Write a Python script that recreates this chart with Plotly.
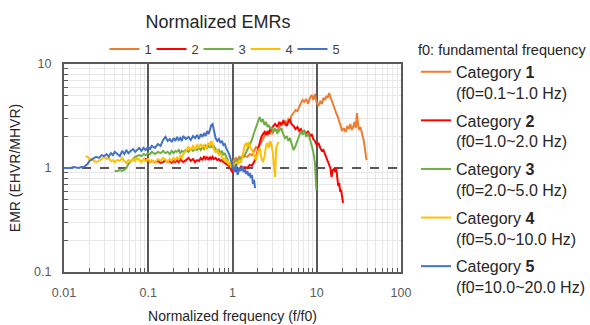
import plotly.graph_objects as go

# ---- data: normalized EMR curves, one per site category ----
cat1_x = [1.00, 1.05, 1.10, 1.15, 1.20, 1.30, 1.40, 1.50, 1.60, 1.70, 1.80, 1.9, 2.0, 2.1, 2.2, 2.3,
          2.4, 2.5, 2.6, 2.7, 2.8, 2.9, 3.0, 3.2, 3.4, 3.6, 3.8, 4.0, 4.2, 4.4, 4.6, 4.8, 5.0, 5.3,
          5.6, 5.9, 6.2, 6.5, 6.8, 7.1, 7.5, 7.9, 8.3, 8.7, 9.1, 9.5, 10, 10.5, 11, 11.5, 12, 12.5,
          13, 13.5, 14, 14.5, 15, 16, 17, 18, 19, 20, 21, 22, 23, 24, 25, 26, 27, 28, 29, 30, 31,
          32, 33, 34, 35, 36, 37, 38, 39]
cat1_y = [1.14, 1.19, 1.25, 1.19, 1.28, 1.25, 1.30, 1.28, 1.36, 1.33, 1.46, 1.59, 1.56, 1.70, 1.78,
          1.90, 2.03, 2.17, 2.08, 2.22, 2.12, 2.27, 2.17, 2.37, 2.27, 2.54, 2.71, 2.65, 2.83, 2.71,
          2.95, 2.83, 3.16, 3.38, 3.61, 3.53, 3.95, 4.22, 4.51, 4.32, 4.61, 4.13, 4.72, 5.03, 4.51,
          5.14, 4.22, 3.95, 4.41, 4.13, 4.72, 4.51, 4.92, 4.72, 5.26, 4.82, 4.41, 3.95, 3.38, 3.02,
          2.54, 2.27, 2.42, 2.22, 2.54, 2.37, 2.65, 2.32, 2.48, 2.77, 2.42, 3.38, 2.54, 2.32, 2.48,
          2.17, 2.03, 1.86, 1.63, 1.43, 1.19]

cat2_x = [0.090, 0.093, 0.10, 0.105, 0.11, 0.12, 0.13, 0.14, 0.15, 0.16, 0.17, 0.18, 0.19, 0.20,
          0.21, 0.22, 0.23, 0.24, 0.25, 0.26, 0.28, 0.30, 0.32, 0.34, 0.36, 0.38, 0.40, 0.42, 0.44,
          0.46, 0.48, 0.50, 0.52, 0.54, 0.56, 0.58, 0.60, 0.63, 0.66, 0.69, 0.72, 0.75, 0.78, 0.81,
          0.84, 0.87, 0.90, 0.93, 0.96, 1.00, 1.05, 1.10, 1.15, 1.20, 1.25, 1.30, 1.40, 1.50, 1.60,
          1.70, 1.80, 1.9, 2.0, 2.1, 2.2, 2.3, 2.4, 2.5, 2.6, 2.7, 2.8, 2.9, 3.0, 3.2, 3.4, 3.6, 3.8,
          4.0, 4.2, 4.4, 4.6, 4.8, 5.0, 5.3, 5.6, 5.9, 6.2, 6.5, 6.8, 7.1, 7.5, 7.9, 8.3, 8.7, 9.1,
          9.5, 10, 10.5, 11, 11.5, 12, 12.5, 13, 13.5, 14, 14.5, 15, 15.5, 16, 16.5, 17, 17.5, 18,
          18.5, 19, 19.5, 20, 20.5]
cat2_y = [1.19, 1.22, 1.17, 1.14, 1.17, 1.14, 1.17, 1.12, 1.14, 1.19, 1.14, 1.17, 1.12, 1.17,
          1.14, 1.19, 1.14, 1.22, 1.17, 1.14, 1.19, 1.25, 1.17, 1.22, 1.14, 1.19, 1.17, 1.25, 1.19,
          1.30, 1.22, 1.28, 1.19, 1.28, 1.22, 1.28, 1.22, 1.25, 1.19, 1.22, 1.17, 1.19, 1.14, 1.12,
          1.09, 1.07, 1.05, 1.00, 0.957, 0.915, 0.978, 0.936, 1.00, 0.957, 1.02, 0.978, 1.02, 1.00,
          1.07, 1.05, 1.14, 1.25, 1.49, 1.78, 1.99, 2.12, 2.22, 2.08, 2.27, 2.12, 2.37, 2.27, 2.48,
          2.65, 2.48, 2.77, 2.59, 2.83, 2.65, 2.54, 2.77, 2.95, 2.65, 2.54, 2.37, 2.48, 2.27, 2.37,
          2.17, 2.27, 2.12, 2.27, 2.03, 2.12, 1.90, 1.82, 1.66, 1.74, 1.56, 1.46, 1.49, 1.36, 1.30,
          1.19, 1.09, 1.00, 0.819, 0.957, 0.978, 0.915, 1.00, 0.801, 0.671, 0.717, 0.588, 0.614,
          0.515, 0.461]

cat3_x = [0.040, 0.043, 0.046, 0.049, 0.052, 0.055, 0.058, 0.062, 0.066, 0.070, 0.074, 0.078,
          0.083, 0.088, 0.093, 0.10, 0.105, 0.11, 0.12, 0.13, 0.14, 0.15, 0.16, 0.17, 0.18, 0.19,
          0.20, 0.21, 0.22, 0.23, 0.24, 0.25, 0.26, 0.28, 0.30, 0.32, 0.34, 0.36, 0.38, 0.40, 0.42,
          0.44, 0.46, 0.48, 0.50, 0.52, 0.54, 0.56, 0.58, 0.60, 0.63, 0.66, 0.69, 0.72, 0.75, 0.78,
          0.81, 0.84, 0.87, 0.90, 0.93, 0.96, 1.00, 1.05, 1.10, 1.15, 1.20, 1.25, 1.30, 1.40, 1.50,
          1.60, 1.70, 1.80, 1.9, 2.0, 2.1, 2.2, 2.3, 2.4, 2.5, 2.6, 2.7, 2.8, 2.9, 3.0, 3.2, 3.4,
          3.6, 3.8, 4.0, 4.2, 4.4, 4.6, 4.8, 5.0, 5.3, 5.6, 5.9, 6.2, 6.5, 6.8, 7.1, 7.5, 7.9, 8.3,
          8.7, 9.1, 9.5, 9.7, 9.8, 9.9]
cat3_y = [0.936, 0.936, 0.957, 0.936, 0.957, 1.00, 1.09, 1.17, 1.22, 1.28, 1.30, 1.33, 1.30, 1.36,
          1.33, 1.39, 1.36, 1.43, 1.36, 1.43, 1.39, 1.46, 1.39, 1.43, 1.36, 1.46, 1.39, 1.46, 1.43,
          1.49, 1.39, 1.46, 1.43, 1.49, 1.43, 1.52, 1.46, 1.52, 1.49, 1.56, 1.49, 1.59, 1.52, 1.63,
          1.56, 1.63, 1.59, 1.66, 1.56, 1.63, 1.52, 1.43, 1.49, 1.39, 1.46, 1.33, 1.39, 1.28, 1.22,
          1.14, 1.07, 1.02, 1.05, 1.12, 1.19, 1.14, 1.25, 1.19, 1.30, 1.33, 1.49, 1.63, 1.86, 2.17,
          2.48, 2.83, 3.09, 2.77, 2.95, 2.59, 2.77, 2.48, 2.59, 2.37, 2.48, 2.27, 2.37, 2.17, 2.32,
          2.42, 2.12, 1.94, 2.03, 1.82, 1.94, 1.70, 1.49, 1.63, 1.86, 2.03, 2.27, 2.08, 2.32, 1.99,
          2.17, 1.90, 1.66, 1.43, 1.14, 0.915, 0.767, 0.614]

cat4_x = [0.018, 0.019, 0.020, 0.022, 0.024, 0.026, 0.028, 0.030, 0.032, 0.034, 0.036, 0.038,
          0.040, 0.043, 0.046, 0.049, 0.052, 0.055, 0.058, 0.062, 0.066, 0.070, 0.074, 0.078,
          0.083, 0.088, 0.093, 0.10, 0.105, 0.11, 0.12, 0.13, 0.14, 0.15, 0.16, 0.17, 0.18, 0.19,
          0.20, 0.21, 0.22, 0.23, 0.24, 0.25, 0.26, 0.28, 0.30, 0.32, 0.34, 0.36, 0.38, 0.40, 0.42,
          0.44, 0.46, 0.48, 0.50, 0.52, 0.54, 0.56, 0.58, 0.60, 0.63, 0.66, 0.69, 0.72, 0.75, 0.78,
          0.81, 0.84, 0.87, 0.90, 0.93, 0.96, 1.00, 1.05, 1.10, 1.15, 1.20, 1.25, 1.30, 1.35, 1.40,
          1.45, 1.50, 1.55, 1.60, 1.70, 1.80, 1.9, 2.0, 2.1, 2.2, 2.3, 2.4, 2.5, 2.6, 2.7, 2.8, 2.9,
          3.0, 3.2, 3.3, 3.5]
cat4_y = [1.30, 1.28, 1.22, 1.19, 1.14, 1.17, 1.22, 1.28, 1.22, 1.25, 1.17, 1.19, 1.14, 1.19,
          1.17, 1.25, 1.17, 1.12, 1.19, 1.14, 1.22, 1.17, 1.25, 1.19, 1.14, 1.22, 1.17, 1.22, 1.14,
          1.19, 1.12, 1.22, 1.17, 1.25, 1.19, 1.14, 1.22, 1.17, 1.25, 1.19, 1.28, 1.19, 1.30, 1.25,
          1.36, 1.49, 1.59, 1.49, 1.63, 1.52, 1.66, 1.56, 1.70, 1.59, 1.66, 1.52, 1.63, 1.74, 1.63,
          1.82, 1.70, 1.52, 1.43, 1.49, 1.33, 1.39, 1.28, 1.19, 1.25, 1.14, 1.19, 1.09, 1.12, 1.05,
          1.09, 1.02, 1.14, 1.07, 1.19, 1.12, 1.25, 1.49, 1.66, 1.74, 1.59, 1.78, 1.63, 1.49, 1.33,
          1.19, 1.43, 1.56, 1.25, 1.14, 1.30, 1.63, 1.74, 1.56, 1.82, 1.66, 1.43, 0.819, 1.56, 1.78]

cat5_x = [0.010, 0.011, 0.012, 0.013, 0.014, 0.015, 0.016, 0.017, 0.018, 0.019, 0.020, 0.022,
          0.024, 0.026, 0.028, 0.030, 0.032, 0.034, 0.036, 0.038, 0.040, 0.043, 0.046, 0.049,
          0.052, 0.055, 0.058, 0.062, 0.066, 0.070, 0.074, 0.078, 0.083, 0.088, 0.093, 0.10, 0.105,
          0.11, 0.12, 0.13, 0.14, 0.15, 0.16, 0.17, 0.18, 0.19, 0.20, 0.21, 0.22, 0.23, 0.24, 0.25,
          0.26, 0.28, 0.30, 0.32, 0.34, 0.36, 0.38, 0.40, 0.42, 0.44, 0.46, 0.48, 0.50, 0.52, 0.54,
          0.56, 0.58, 0.60, 0.63, 0.66, 0.69, 0.72, 0.75, 0.78, 0.81, 0.84, 0.87, 0.90, 0.93, 0.96,
          1.00, 1.05, 1.10, 1.15, 1.20, 1.25, 1.30, 1.35, 1.40, 1.45, 1.50, 1.55, 1.60, 1.65, 1.70,
          1.75, 1.80, 1.85]
cat5_y = [1.00, 1.00, 1.00, 1.02, 1.01, 1.00, 1.02, 1.02, 1.05, 1.09, 1.17, 1.22, 1.28, 1.25,
          1.33, 1.30, 1.36, 1.28, 1.39, 1.33, 1.43, 1.36, 1.30, 1.46, 1.36, 1.49, 1.39, 1.46, 1.52,
          1.43, 1.49, 1.56, 1.46, 1.56, 1.49, 1.59, 1.52, 1.63, 1.56, 1.70, 1.63, 1.86, 1.99, 1.82,
          1.90, 1.78, 1.94, 1.82, 1.99, 1.86, 1.94, 1.82, 2.03, 1.90, 1.99, 1.86, 2.03, 1.94, 2.08,
          1.90, 2.12, 1.99, 2.17, 2.03, 2.27, 2.12, 2.32, 2.59, 2.65, 2.27, 1.94, 1.82, 1.90, 1.74,
          1.82, 1.66, 1.70, 1.56, 1.49, 1.39, 1.30, 1.17, 1.05, 0.915, 1.09, 0.857, 1.00, 0.936,
          1.05, 0.915, 0.978, 0.876, 0.936, 0.838, 0.895, 0.801, 0.857, 0.702, 0.767, 0.642]

series_x = [cat1_x, cat2_x, cat3_x, cat4_x, cat5_x]
series_y = [cat1_y, cat2_y, cat3_y, cat4_y, cat5_y]
series_keys = ["1", "2", "3", "4", "5"]
category_labels = [
    "Category <b>1</b><br>(f0=0.1~1.0 Hz)",
    "Category <b>2</b><br>(f0=1.0~2.0 Hz)",
    "Category <b>3</b><br>(f0=2.0~5.0 Hz)",
    "Category <b>4</b><br>(f0=5.0~10.0 Hz)",
    "Category <b>5</b><br>(f0=10.0~20.0 Hz)",
]
colors = ["#ED7D31", "#FF0000", "#70AD47", "#FFC000", "#4472C4"]

x_ticks = [0.01, 0.1, 1, 10, 100]
x_ticktext = ["0.01", "0.1", "1", "10", "100"]
y_ticks = [0.1, 1, 10]
y_ticktext = ["0.1", "1", "10"]

minor_x = [m * d for d in (0.01, 0.1, 1, 10) for m in range(2, 10)]
minor_y = [m * d for d in (0.1, 1) for m in range(2, 10)]

FONT = "Liberation Sans, Arial, sans-serif"
AXIS_DARK = "#595959"
MINOR_GRID = "#e8e8e8"

fig = go.Figure()

# EMR curves (shown in the compact key above the plot)
for key, xs, ys, c in zip(series_keys, series_x, series_y, colors):
    fig.add_trace(go.Scatter(
        x=xs, y=ys, mode="lines", name=key,
        line=dict(color=c, width=2),
        legend="legend",
    ))

# descriptive key on the right side
for i, (lab, c) in enumerate(zip(category_labels, colors)):
    fig.add_trace(go.Scatter(
        x=[None], y=[None], mode="lines", name=lab,
        line=dict(color=c, width=2),
        legend="legend2", legendgroup=f"g{i}", hoverinfo="skip",
    ))

fig.update_layout(
    width=590, height=325,
    margin=dict(l=64, r=189, t=64, b=53),
    paper_bgcolor="white", plot_bgcolor="white",
    font=dict(family=FONT, color="#404040"),
    title=dict(text="Normalized EMRs", x=218 / 590, xanchor="center", xref="container",
               y=1 - 22 / 325, yanchor="middle", yref="container",
               font=dict(size=18, color="#262626")),
    showlegend=True,
    legend=dict(
        orientation="h", xref="container", yref="container",
        x=222 / 590, xanchor="center", y=1 - 49 / 325, yanchor="middle",
        font=dict(size=13, color="#404040"), bgcolor="rgba(0,0,0,0)",
        entrywidth=2, traceorder="normal",
    ),
    legend2=dict(
        xref="container", yref="container",
        x=416 / 590, xanchor="left", y=1 - 36 / 325, yanchor="top",
        title=dict(text="f0: fundamental frequency", font=dict(size=14.5, color="#262626")),
        font=dict(size=16, color="#262626"), bgcolor="rgba(0,0,0,0)",
        valign="top", tracegroupgap=4, traceorder="grouped",
        maxheight=320,
    ),
)

fig.update_xaxes(
    type="log", range=[-2, 2],
    tickmode="array", tickvals=x_ticks, ticktext=x_ticktext,
    ticks="", ticklabelstandoff=8,
    tickfont=dict(size=12.5, color=AXIS_DARK),
    showgrid=True, gridcolor=AXIS_DARK, gridwidth=2, griddash="solid",
    minor=dict(tickmode="array", tickvals=minor_x, showgrid=True, gridcolor=MINOR_GRID,
               gridwidth=1, griddash="solid", ticks="inside", ticklen=4,
               tickcolor=AXIS_DARK, tickwidth=1),
    showline=True, linecolor=AXIS_DARK, linewidth=2, mirror=True,
    zeroline=False,
    title=dict(text="Normalized frequency (f/f0)", font=dict(size=14, color="#262626"), standoff=12),
    automargin=False,
)
fig.update_yaxes(
    type="log", range=[-1, 1],
    tickmode="array", tickvals=y_ticks, ticktext=y_ticktext,
    ticks="", ticklabelstandoff=8,
    tickfont=dict(size=12.5, color=AXIS_DARK),
    showgrid=True, gridcolor=AXIS_DARK, gridwidth=1.5, griddash="dash",
    minor=dict(tickmode="array", tickvals=minor_y, showgrid=True, gridcolor=MINOR_GRID,
               gridwidth=1, griddash="solid", ticks="inside", ticklen=4,
               tickcolor=AXIS_DARK, tickwidth=1),
    showline=True, linecolor=AXIS_DARK, linewidth=2, mirror=True,
    zeroline=False,
    title=dict(text="EMR (EHVR/MHVR)", font=dict(size=14, color="#262626"), standoff=10),
    automargin=False,
)

fig.write_html("out.html")
